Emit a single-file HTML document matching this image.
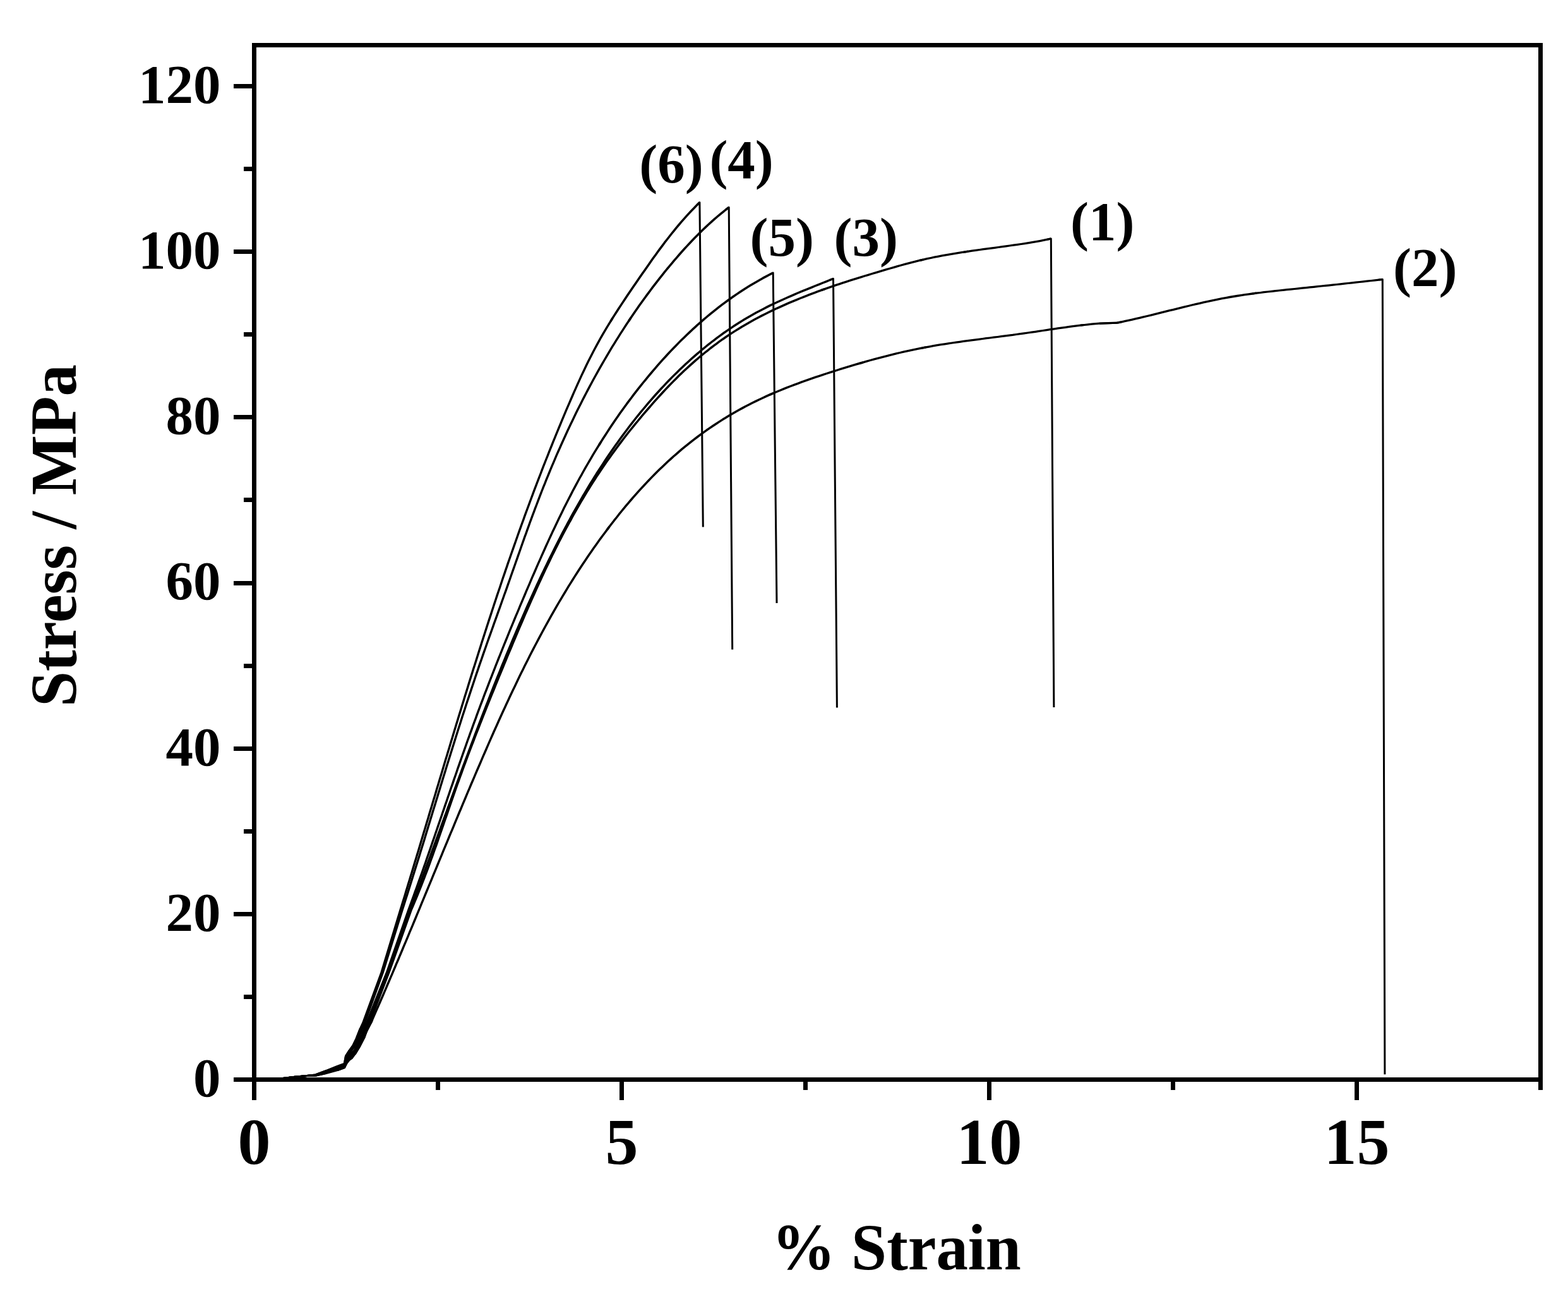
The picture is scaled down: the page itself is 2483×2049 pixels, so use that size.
<!DOCTYPE html>
<html lang="en"><head><meta charset="utf-8"><title>Stress / MPa vs % Strain</title>
<style>html,body{margin:0;padding:0;background:#fff}body{width:2483px;height:2049px;overflow:hidden}svg{display:block}text{font-family:'Liberation Serif', serif;font-weight:bold;fill:#000}</style></head><body>
<svg width="2483" height="2049" viewBox="0 0 2483 2049" role="img" aria-label="Stress-strain curves">
<rect width="2483" height="2049" fill="#fff"/>
<g fill="none" stroke="#000" stroke-linejoin="round" stroke-linecap="butt">
<polyline stroke-width="3.23" points="430.0,1709.5 448.0,1707.5 467.0,1705.4 486.0,1703.5 500.0,1703.0"/>
<polyline stroke-width="3.13" points="486.0,1703.5 500.0,1703.0 517.3,1699.1"/>
<polyline stroke-width="3.34" points="500.0,1703.0 517.3,1699.1 534.6,1694.5 545.5,1690.5"/>
<polyline stroke-width="3.42" points="534.6,1694.5 545.5,1690.5 548.6,1683.5 552.6,1678.6"/>
<polyline stroke-width="3.47" points="548.6,1683.5 552.6,1678.6 557.3,1675.3 561.9,1669.0 567.6,1659.2 573.4,1647.6 579.1,1635.6 587.2,1620.0 589.6,1614.5"/>
<polyline stroke-width="3.44" points="587.2,1620.0 589.6,1614.5 592.1,1608.9 594.5,1603.4 596.9,1597.8 599.4,1592.3 601.8,1586.8 604.2,1581.2 606.6,1575.7 609.0,1570.1 611.4,1564.6 613.7,1559.0 616.1,1553.5 618.5,1547.9 620.9,1542.4 623.2,1536.8 625.6,1531.3 627.9,1525.7 630.3,1520.2 632.6,1514.6 635.0,1509.0 637.3,1503.5 639.6,1497.9 642.0,1492.4 644.3,1486.8 646.6,1481.3 648.9,1475.7 651.3,1470.1 653.6,1464.6 655.9,1459.0 658.2,1453.5 660.5,1447.9 662.8,1442.3 665.1,1436.8 667.4,1431.2 669.7,1425.7 672.0,1420.1 674.3,1414.5 676.6,1409.0 678.9,1403.4 681.2,1397.8 683.5,1392.3 685.8,1386.7 688.1,1381.1 690.4,1375.6 692.7,1370.0 695.0,1364.4 697.3,1358.9 699.6,1353.3 701.9,1347.7 704.2,1342.2 706.5,1336.6 708.8,1331.1 711.1,1325.5 713.4,1319.9 715.8,1314.4 718.1,1308.8 720.4,1303.2 722.7,1297.7 725.0,1292.1 727.3,1286.5 729.7,1281.0 732.0,1275.4 734.3,1269.8 736.7,1264.3 739.0,1258.7 741.3,1253.2 743.7,1247.6 746.0,1242.0 748.4,1236.5 750.8,1230.9 753.1,1225.4 755.5,1219.8 757.9,1214.2 760.3,1208.7 762.7,1203.1 765.0,1197.6 767.5,1192.0 769.9,1186.5 772.3,1180.9 774.7,1175.4 777.1,1169.9 779.6,1164.3 782.0,1158.8 784.5,1153.3 787.0,1147.8 789.4,1142.2 791.9,1136.7 794.4,1131.2 796.9,1125.7 799.5,1120.2 802.0,1114.7 804.6,1109.3 807.1,1103.8 809.7,1098.3 812.3,1092.8 814.9,1087.4 817.5,1081.9 820.1,1076.5 822.7,1071.1 825.4,1065.6 828.1,1060.2 830.7,1054.8 833.4,1049.4 836.2,1044.0 838.9,1038.6 841.6,1033.3 844.4,1027.9 847.2,1022.5 850.0,1017.2 852.8,1011.9 855.6,1006.6 858.5,1001.2 861.4,995.9 864.2,990.7 867.2,985.4 870.1,980.1 873.0,974.9 876.0,969.6 879.0,964.4 882.0,959.2 885.0,954.0 888.1,948.8 891.2,943.6 894.3,938.5 897.4,933.3 900.5,928.2 903.7,923.1 906.9,918.0 910.1,912.9 913.4,907.8 916.6,902.8 919.9,897.7 923.2,892.7 926.6,887.7 929.9,882.7 933.3,877.7 936.8,872.8 940.2,867.8 943.7,862.9 947.2,858.0 950.7,853.1 954.3,848.3 957.9,843.4 961.5,838.6 965.1,833.8"/>
<polyline stroke-width="3.48" points="961.5,838.6 965.1,833.8 968.8,829.0 972.5,824.2 976.3,819.5 980.0,814.7 983.8,810.0 987.6,805.4 991.5,800.7 995.4,796.1 999.3,791.5 1003.3,786.9 1007.3,782.4 1011.3,777.9 1015.4,773.4 1019.5,769.0 1023.6,764.6 1027.7,760.2 1031.9,755.9 1036.2,751.6 1040.4,747.3 1044.7,743.1 1049.1,738.9 1053.5,734.7 1057.9,730.6 1062.3,726.6 1066.8,722.5 1071.4,718.6 1075.9,714.6 1080.5,710.7 1085.2,706.9 1089.9,703.1 1094.6,699.3 1099.4,695.6 1104.2,692.0 1109.0,688.4 1113.9,684.8 1118.8,681.3 1123.8,677.9 1128.8,674.5 1133.8,671.2 1138.9,667.9 1144.0,664.6 1149.1,661.5 1154.3,658.3 1159.5,655.3 1164.7,652.2 1170.0,649.3 1175.3,646.4 1180.6,643.5 1186.0,640.8 1191.3,638.0 1196.7,635.4 1202.2,632.8 1207.6,630.2 1213.1,627.7 1218.6,625.2 1224.1,622.8"/>
<polyline stroke-width="3.39" points="1218.6,625.2 1224.1,622.8 1229.6,620.5 1235.2,618.2 1240.8,615.9 1246.4,613.7 1252.0,611.5 1257.6,609.4 1263.3,607.3 1268.9,605.2 1274.6,603.2 1280.3,601.2 1286.0,599.2 1291.7,597.2 1297.4,595.3 1303.2,593.4 1308.9,591.5 1314.7,589.7 1320.4,587.8 1326.2,586.0 1331.9,584.2 1337.7,582.4 1343.5,580.6 1349.3,578.9 1355.0,577.2 1360.8,575.5 1366.6,573.8"/>
<polyline stroke-width="3.34" points="1360.8,575.5 1366.6,573.8 1372.4,572.1 1378.2,570.5 1384.1,568.9 1389.9,567.3 1395.7,565.8 1401.6,564.3 1407.4,562.8 1413.2,561.3 1419.1,559.9 1425.0,558.5 1430.8,557.2 1436.7,555.9 1442.6,554.6 1448.5,553.3 1454.4,552.1 1460.3,551.0 1466.2,549.9"/>
<polyline stroke-width="3.26" points="1460.3,551.0 1466.2,549.9 1472.2,548.8 1478.1,547.7 1484.0,546.7 1490.0,545.7 1495.9,544.8 1501.9,543.9 1507.8,543.0 1513.8,542.1 1519.8,541.3 1525.8,540.4 1531.7,539.6 1537.7,538.8 1543.7,538.1 1549.7,537.3 1555.7,536.5 1561.7,535.7 1567.6,535.0 1573.6,534.2 1579.6,533.5 1585.6,532.7 1591.6,531.9 1597.6,531.1 1603.6,530.4 1609.5,529.5 1615.5,528.7 1621.5,527.9 1627.5,527.0 1633.4,526.2 1639.4,525.3 1645.4,524.4 1651.3,523.5 1657.3,522.6 1663.2,521.7 1669.2,520.8 1675.2,519.9 1681.1,519.1 1687.1,518.3 1693.1,517.4 1699.0,516.7 1705.0,515.9 1711.0,515.2 1717.0,514.5"/>
<polyline stroke-width="3.22" points="1711.0,515.2 1717.0,514.5 1723.0,513.8 1729.0,513.2 1735.0,512.7 1741.0,512.2 1769.0,511.2"/>
<polyline stroke-width="3.13" points="1741.0,512.2 1769.0,511.2 1775.0,510.0"/>
<polyline stroke-width="3.32" points="1769.0,511.2 1775.0,510.0 1780.9,508.7 1786.9,507.4 1792.8,506.1 1798.8,504.7 1804.7,503.3 1810.6,501.9 1816.6,500.5 1822.5,499.1 1828.4,497.6 1834.3,496.2 1840.2,494.7 1846.2,493.2 1852.1,491.7 1858.0,490.3 1863.9,488.8 1869.8,487.3 1875.8,485.9 1881.7,484.5 1887.6,483.0 1893.6,481.7 1899.5,480.3 1905.4,478.9 1911.4,477.6 1917.3,476.3 1923.3,475.1 1929.3,473.9 1935.2,472.7 1941.2,471.6 1947.2,470.5 1953.2,469.5 1959.2,468.5 1965.2,467.6 1971.2,466.7 1977.3,465.9 1983.3,465.0 1989.4,464.2"/>
<polyline stroke-width="3.23" points="1983.3,465.0 1989.4,464.2 1995.4,463.5 2001.4,462.7 2007.5,462.0 2013.6,461.3 2019.6,460.7 2025.7,460.0 2031.7,459.4 2037.8,458.7 2043.9,458.1 2049.9,457.5 2056.0,456.8 2062.1,456.2 2068.1,455.6 2074.2,454.9 2080.3,454.3 2086.3,453.7 2092.4,453.0 2098.4,452.4 2104.5,451.8 2110.6,451.1 2116.6,450.5 2122.7,449.8 2128.7,449.2 2134.8,448.5 2140.9,447.9 2146.9,447.2 2153.0,446.5 2159.0,445.9 2165.1,445.2 2171.1,444.5 2177.2,443.8 2183.2,443.1 2189.3,442.4"/>
<polyline stroke-width="3" points="2183.2,443.1 2189.3,442.4 2192.9,1701.3"/>
<polyline stroke-width="3.23" points="430.0,1709.5 448.0,1707.5 467.0,1705.4 486.0,1703.5 500.0,1702.8"/>
<polyline stroke-width="3.16" points="486.0,1703.5 500.0,1702.8 517.3,1698.3"/>
<polyline stroke-width="3.37" points="500.0,1702.8 517.3,1698.3 534.6,1693.3 545.5,1689.3 550.2,1681.0"/>
<polyline stroke-width="3.47" points="545.5,1689.3 550.2,1681.0 556.3,1673.0 562.8,1668.0 569.8,1656.5 576.5,1643.5 584.4,1621.5"/>
<polyline stroke-width="3.42" points="576.5,1643.5 584.4,1621.5 615.8,1540.0 651.5,1440.0 653.9,1434.5 656.3,1428.9 658.6,1423.4 660.9,1417.8 663.2,1412.2 665.4,1406.6 667.6,1401.0 669.8,1395.4 672.0,1389.8 674.1,1384.1 676.3,1378.5 678.4,1372.8 680.5,1367.2 682.5,1361.5 684.6,1355.8 686.6,1350.1 688.6,1344.4 690.7,1338.8 692.7,1333.1 694.6,1327.4 696.6,1321.6 698.6,1315.9 700.6,1310.2 702.6,1304.5 704.5,1298.8 706.5,1293.1 708.5,1287.4 710.4,1281.7 712.4,1276.0 714.4,1270.3 716.3,1264.6 718.3,1258.9 720.3,1253.2 722.3,1247.5 724.3,1241.8 726.4,1236.1 728.4,1230.4 730.5,1224.8 732.5,1219.1 734.6,1213.4 736.7,1207.8 738.8,1202.1 740.9,1196.5 743.0,1190.9 745.2,1185.2 747.3,1179.6 749.5,1174.0 751.6,1168.3 753.8,1162.7 756.0,1157.1 758.2,1151.5 760.4,1145.9 762.6,1140.3 764.8,1134.7 767.0,1129.1 769.2,1123.5 771.5,1117.9 773.7,1112.3 776.0,1106.7 778.2,1101.1 780.5,1095.5 782.8,1090.0 785.0,1084.4 787.3,1078.8 789.6,1073.2 791.9,1067.6 794.2,1062.1 796.5,1056.5 798.8,1050.9 801.1,1045.3 803.4,1039.7 805.7,1034.2 808.1,1028.6 810.4,1023.0 812.7,1017.4 815.1,1011.9 817.4,1006.3 819.8,1000.7 822.1,995.2 824.5,989.6 826.9,984.0 829.2,978.5 831.6,972.9 834.1,967.4 836.5,961.9 838.9,956.3 841.3,950.8 843.8,945.3 846.3,939.7 848.7,934.2 851.2,928.7 853.7,923.2 856.3,917.8 858.8,912.3 861.4,906.8 863.9,901.3 866.5,895.9 869.2,890.4 871.8,885.0 874.4,879.6 877.1,874.2 879.8,868.8 882.5,863.4 885.2,858.0 888.0,852.7 890.8,847.3 893.6,842.0 896.4,836.7 899.3,831.4 902.1,826.1 905.0,820.8"/>
<polyline stroke-width="3.47" points="902.1,826.1 905.0,820.8 908.0,815.5 910.9,810.3 913.9,805.1 916.9,799.8 919.9,794.6 923.0,789.5 926.1,784.3 929.2,779.2 932.4,774.0 935.6,768.9 938.8,763.8 942.1,758.8 945.3,753.7 948.7,748.7 952.0,743.7 955.4,738.7 958.8,733.7 962.3,728.8 965.8,723.9 969.3,719.0 972.9,714.1 976.5,709.2 980.1,704.4 983.7,699.6 987.4,694.8 991.1,690.0 994.8,685.3 998.6,680.5 1002.4,675.8 1006.2,671.1 1010.1,666.5 1013.9,661.8 1017.8,657.2 1021.7,652.6 1025.7,648.0 1029.7,643.5 1033.6,638.9 1037.6,634.4 1041.7,629.9 1045.7,625.5 1049.8,621.0 1053.9,616.6 1058.1,612.3 1062.3,607.9 1066.5,603.6 1070.7,599.4 1075.0,595.1 1079.3,590.9 1083.7,586.8 1088.1,582.7 1092.6,578.6 1097.1,574.6 1101.6,570.6 1106.2,566.7 1110.8,562.8 1115.5,559.0 1120.2,555.3 1124.9,551.5 1129.7,547.9 1134.5,544.3 1139.4,540.7 1144.3,537.2 1149.3,533.8 1154.3,530.4 1159.3,527.1 1164.4,523.9 1169.5,520.7 1174.7,517.5 1179.9,514.5 1185.1,511.4 1190.3,508.5 1195.6,505.6 1200.9,502.7 1206.3,499.9 1211.7,497.2 1217.1,494.5 1222.5,491.9 1227.9,489.3 1233.4,486.8 1238.9,484.3 1244.4,481.8 1250.0,479.4 1255.5,477.1 1261.1,474.8 1266.7,472.5 1272.3,470.3 1277.9,468.1 1283.5,465.9 1289.1,463.8 1294.8,461.7 1300.4,459.7 1306.1,457.6"/>
<polyline stroke-width="3.37" points="1300.4,459.7 1306.1,457.6 1311.8,455.6 1317.5,453.7 1323.2,451.7 1328.9,449.8 1334.6,447.9 1340.3,446.1 1346.1,444.2 1351.8,442.4 1357.6,440.6 1363.3,438.8 1369.1,437.0 1374.9,435.3 1380.7,433.5 1386.4,431.8 1392.2,430.1 1398.0,428.4 1403.8,426.6 1409.6,425.0 1415.4,423.3 1421.2,421.6 1427.0,420.0 1432.9,418.4 1438.7,416.9 1444.5,415.3 1450.4,413.9 1456.2,412.4 1462.1,411.1"/>
<polyline stroke-width="3.30" points="1456.2,412.4 1462.1,411.1 1468.0,409.7 1473.9,408.5 1479.8,407.2 1485.7,406.1 1491.6,404.9 1497.5,403.8 1503.5,402.8 1509.4,401.8 1515.3,400.8 1521.3,399.9 1527.3,399.0 1533.2,398.1"/>
<polyline stroke-width="3.27" points="1527.3,399.0 1533.2,398.1 1539.2,397.2 1545.1,396.3 1551.1,395.5 1557.1,394.7 1563.1,393.9 1569.0,393.1 1575.0,392.3 1581.0,391.5 1587.0,390.7 1593.0,389.9 1598.9,389.0 1604.9,388.2 1610.9,387.4 1616.8,386.5 1622.8,385.6 1628.8,384.7 1634.7,383.7 1640.7,382.7 1646.6,381.6 1652.5,380.4 1658.4,379.2 1664.3,377.9"/>
<polyline stroke-width="3" points="1658.4,379.2 1664.3,377.9 1668.9,1120.0"/>
<polyline stroke-width="3.22" points="430.0,1709.5 448.0,1707.5 467.0,1705.4 486.0,1703.5 500.0,1702.5 517.3,1697.6"/>
<polyline stroke-width="3.38" points="500.0,1702.5 517.3,1697.6 534.6,1692.0 545.5,1688.0 549.7,1679.5"/>
<polyline stroke-width="3.44" points="545.5,1688.0 549.7,1679.5 555.8,1671.0 562.2,1665.5 568.3,1654.0 575.0,1641.0 582.5,1621.0 614.5,1540.0 650.0,1440.0 652.1,1434.3 654.3,1428.7 656.4,1423.0 658.5,1417.3 660.7,1411.6 662.8,1405.9 664.9,1400.3 667.0,1394.6 669.1,1388.9 671.2,1383.2 673.3,1377.5 675.4,1371.8 677.5,1366.2 679.6,1360.5 681.7,1354.8 683.8,1349.1 685.9,1343.4 687.9,1337.7 690.0,1332.0 692.1,1326.3 694.2,1320.7 696.3,1315.0 698.3,1309.3 700.4,1303.6 702.5,1297.9 704.6,1292.2 706.7,1286.5 708.7,1280.8 710.8,1275.1 712.9,1269.5 715.0,1263.8 717.1,1258.1 719.2,1252.4 721.2,1246.7 723.3,1241.0 725.4,1235.4 727.5,1229.7 729.6,1224.0 731.7,1218.3 733.8,1212.6 735.9,1207.0 738.0,1201.3 740.2,1195.6 742.3,1189.9 744.4,1184.3 746.5,1178.6 748.7,1172.9 750.8,1167.3 752.9,1161.6 755.1,1156.0 757.2,1150.3 759.4,1144.6 761.5,1139.0 763.7,1133.3 765.9,1127.7 768.1,1122.1 770.3,1116.4 772.5,1110.8 774.7,1105.1 776.9,1099.5 779.1,1093.9 781.3,1088.2 783.5,1082.6 785.8,1077.0 788.0,1071.4 790.3,1065.8 792.6,1060.1 794.8,1054.5 797.1,1048.9 799.4,1043.3 801.7,1037.7 804.0,1032.1 806.4,1026.5 808.7,1021.0 811.0,1015.4 813.4,1009.8 815.8,1004.2 818.1,998.6 820.5,993.1 822.9,987.5 825.4,982.0 827.8,976.4 830.2,970.9 832.7,965.3 835.1,959.8 837.6,954.2 840.1,948.7 842.6,943.2 845.1,937.7 847.6,932.1 850.2,926.6 852.7,921.1 855.3,915.6 857.9,910.1 860.5,904.7 863.1,899.2 865.8,893.7 868.4,888.3 871.1,882.8 873.8,877.4 876.5,871.9 879.2,866.5 882.0,861.1 884.7,855.7 887.5,850.3 890.3,844.9 893.1,839.5 896.0,834.2 898.8,828.8 901.7,823.5 904.6,818.2 907.5,812.9 910.5,807.6 913.5,802.3 916.5,797.0 919.5,791.8 922.5,786.5 925.6,781.3 928.7,776.1 931.8,770.9 934.9,765.7 938.1,760.6 941.3,755.5 944.5,750.3 947.8,745.2 951.1,740.1 954.4,735.1 957.7,730.0 961.0,725.0 964.4,720.0 967.8,715.0 971.3,710.0 974.8,705.1 978.3,700.2 981.8,695.2 985.4,690.4 989.0,685.5 992.6,680.7 996.3,675.8 999.9,671.1 1003.7,666.3 1007.4,661.5 1011.2,656.8 1015.0,652.1 1018.9,647.5 1022.8,642.8 1026.7,638.2 1030.7,633.6 1034.7,629.0 1038.7,624.5 1042.8,620.0 1046.9,615.5 1051.1,611.1 1055.2,606.7 1059.4,602.3 1063.7,597.9 1068.0,593.6 1072.3,589.4 1076.7,585.1 1081.1,581.0 1085.5,576.8 1090.0,572.7 1094.5,568.6 1099.0,564.6 1103.6,560.6 1108.2,556.7 1112.8,552.8 1117.5,549.0 1122.3,545.2 1127.0,541.5 1131.8,537.8 1136.6,534.1 1141.5,530.6 1146.4,527.0 1151.4,523.6 1156.4,520.2 1161.4,516.8 1166.5,513.5 1171.6,510.3 1176.7,507.1 1181.9,504.0 1187.1,500.9 1192.3,498.0 1197.6,495.0 1203.0,492.2 1208.3,489.4 1213.7,486.6 1219.1,483.9 1224.6,481.3 1230.1,478.7 1235.6,476.2 1241.1,473.7 1246.6,471.2 1252.2,468.8 1257.8,466.4 1263.3,464.0 1268.9,461.7 1274.6,459.3 1280.2,457.1 1285.8,454.8 1291.4,452.5 1297.0,450.3 1302.7,448.0 1308.3,445.8 1313.9,443.5 1319.5,441.3"/>
<polyline stroke-width="3" points="1313.9,443.5 1319.5,441.3 1325.4,1120.5"/>
<polyline stroke-width="3.22" points="430.0,1709.5 448.0,1707.5 467.0,1705.4 486.0,1703.5 500.0,1702.3 517.3,1696.8"/>
<polyline stroke-width="3.40" points="500.0,1702.3 517.3,1696.8 534.6,1690.8 545.5,1686.8 549.2,1678.0 555.3,1669.0"/>
<polyline stroke-width="3.47" points="549.2,1678.0 555.3,1669.0 561.4,1663.0 567.0,1651.0 573.5,1637.5 580.2,1620.5"/>
<polyline stroke-width="3.42" points="573.5,1637.5 580.2,1620.5 612.5,1540.0 647.2,1440.0 649.3,1434.3 651.4,1428.7 653.4,1423.0 655.5,1417.3 657.5,1411.7 659.6,1406.0 661.6,1400.3 663.6,1394.6 665.7,1388.9 667.7,1383.2 669.7,1377.5 671.7,1371.9 673.7,1366.2 675.6,1360.5 677.6,1354.8 679.6,1349.1 681.6,1343.4 683.5,1337.7 685.5,1331.9 687.5,1326.2 689.4,1320.5 691.4,1314.8 693.3,1309.1 695.3,1303.4 697.2,1297.7 699.2,1292.0 701.1,1286.3 703.1,1280.6 705.0,1274.9 707.0,1269.2 708.9,1263.5 710.9,1257.7 712.8,1252.0 714.8,1246.3 716.8,1240.6 718.7,1234.9 720.7,1229.2 722.7,1223.5 724.6,1217.8 726.6,1212.1 728.6,1206.4 730.6,1200.7 732.6,1195.0 734.6,1189.4 736.6,1183.7 738.6,1178.0 740.6,1172.3 742.7,1166.6 744.7,1160.9 746.8,1155.3 748.8,1149.6 750.9,1143.9 753.0,1138.3 755.0,1132.6 757.1,1126.9 759.2,1121.3 761.3,1115.6 763.5,1110.0 765.6,1104.4 767.7,1098.7 769.9,1093.1 772.1,1087.4 774.2,1081.8 776.4,1076.2 778.6,1070.6 780.8,1064.9 783.0,1059.3 785.2,1053.7 787.4,1048.1 789.6,1042.5 791.9,1036.9 794.1,1031.3 796.4,1025.7 798.6,1020.1 800.9,1014.5 803.2,1008.9 805.4,1003.3 807.7,997.7 810.0,992.1 812.3,986.6 814.6,981.0 816.9,975.4 819.3,969.8 821.6,964.3 823.9,958.7 826.3,953.1 828.6,947.6 831.0,942.0 833.3,936.4 835.7,930.9 838.1,925.3 840.4,919.8 842.8,914.2 845.2,908.7 847.6,903.2 850.0,897.6 852.4,892.1 854.9,886.6 857.3,881.1 859.8,875.5 862.3,870.0 864.7,864.5 867.2,859.1 869.7,853.6 872.3,848.1 874.8,842.6 877.4,837.2 880.0,831.7 882.6,826.3 885.2,820.8 887.8,815.4 890.5,810.0 893.1,804.6 895.8,799.2 898.6,793.8 901.3,788.5 904.1,783.1 906.8,777.8 909.7,772.4 912.5,767.1 915.4,761.8 918.2,756.5 921.2,751.3 924.1,746.0 927.1,740.7 930.1,735.5 933.1,730.3 936.2,725.1 939.2,719.9 942.4,714.7 945.5,709.6 948.7,704.5 951.9,699.3"/>
<polyline stroke-width="3.49" points="948.7,704.5 951.9,699.3 955.1,694.2 958.4,689.2 961.7,684.1 965.0,679.0 968.3,674.0 971.7,669.0 975.1,664.0 978.6,659.1 982.0,654.1 985.5,649.2 989.1,644.3 992.6,639.4 996.2,634.6 999.9,629.8 1003.5,624.9 1007.2,620.2 1010.9,615.4 1014.7,610.7 1018.4,606.0 1022.3,601.3 1026.1,596.6 1030.0,592.0 1033.9,587.4 1037.8,582.8 1041.8,578.2 1045.8,573.7 1049.8,569.2 1053.9,564.7 1058.0,560.3 1062.1,555.9 1066.3,551.5 1070.5,547.2 1074.7,542.9 1079.0,538.6 1083.3,534.4 1087.6,530.2 1092.0,526.1 1096.4,521.9 1100.9,517.9 1105.3,513.8 1109.9,509.9 1114.4,505.9 1119.0,502.0 1123.6,498.2 1128.3,494.3 1133.0,490.6 1137.7,486.9 1142.5,483.2 1147.3,479.6 1152.2,476.0 1157.1,472.5 1162.0,469.0 1167.0,465.6 1172.0,462.3 1177.0,459.0 1182.1,455.7 1187.2,452.6 1192.4,449.4 1197.6,446.4 1202.8,443.4 1208.1,440.4 1213.4,437.6 1218.8,434.7 1224.2,432.0"/>
<polyline stroke-width="3" points="1218.8,434.7 1224.2,432.0 1230.0,955.1"/>
<polyline stroke-width="3.23" points="430.0,1709.5 448.0,1707.5 467.0,1705.4 486.0,1703.5 500.0,1702.0 517.3,1696.1"/>
<polyline stroke-width="3.39" points="500.0,1702.0 517.3,1696.1 534.6,1689.5 545.5,1685.5 548.4,1675.0 554.6,1666.0"/>
<polyline stroke-width="3.47" points="548.4,1675.0 554.6,1666.0 560.2,1658.5 566.3,1646.0 572.3,1631.5"/>
<polyline stroke-width="3.41" points="566.3,1646.0 572.3,1631.5 576.8,1621.5 606.2,1540.0 637.3,1440.0 639.2,1434.3 641.0,1428.5 642.8,1422.8 644.7,1417.0 646.5,1411.3 648.3,1405.5 650.1,1399.8 651.9,1394.0 653.7,1388.3 655.5,1382.5 657.3,1376.8 659.1,1371.0 660.9,1365.2 662.7,1359.5 664.5,1353.7 666.2,1348.0 668.0,1342.2 669.8,1336.4 671.6,1330.7 673.3,1324.9 675.1,1319.1 676.8,1313.4 678.6,1307.6 680.4,1301.8 682.1,1296.1 683.9,1290.3 685.6,1284.5 687.4,1278.8 689.2,1273.0 690.9,1267.2 692.7,1261.4 694.4,1255.7 696.2,1249.9 698.0,1244.1 699.7,1238.4 701.5,1232.6 703.3,1226.8 705.1,1221.1 706.8,1215.3 708.6,1209.6 710.4,1203.8 712.2,1198.0 714.0,1192.3 715.8,1186.5 717.6,1180.8 719.4,1175.0 721.2,1169.3 723.0,1163.5 724.8,1157.8 726.6,1152.0 728.5,1146.3 730.3,1140.5 732.1,1134.8 734.0,1129.0 735.9,1123.3 737.7,1117.6 739.6,1111.8 741.5,1106.1 743.4,1100.4 745.3,1094.6 747.2,1088.9 749.1,1083.2 751.0,1077.5 752.9,1071.8 754.8,1066.1 756.8,1060.4 758.7,1054.6 760.7,1048.9 762.7,1043.2 764.6,1037.6 766.6,1031.9 768.6,1026.2 770.6,1020.5 772.6,1014.8 774.6,1009.1 776.7,1003.4 778.7,997.8 780.7,992.1 782.7,986.4 784.8,980.7 786.8,975.1 788.8,969.4 790.9,963.7 792.9,958.0 794.9,952.3 796.9,946.7 798.9,941.0 801.0,935.3 803.0,929.6 805.0,923.9 807.0,918.2 809.0,912.5 811.0,906.8 813.0,901.1 815.0,895.5 817.0,889.8 819.0,884.1 821.0,878.4 823.0,872.7 825.0,867.0 827.0,861.3 829.0,855.6 831.0,849.9 833.1,844.3 835.1,838.6 837.2,832.9 839.2,827.2 841.3,821.6 843.4,815.9 845.5,810.3 847.6,804.6 849.8,799.0 851.9,793.3 854.1,787.7 856.2,782.1 858.4,776.5 860.6,770.9 862.9,765.3 865.1,759.7 867.4,754.1 869.7,748.5 872.0,742.9 874.3,737.4 876.7,731.8 879.0,726.3 881.4,720.7 883.8,715.2 886.3,709.7 888.7,704.2 891.2,698.7 893.7,693.2 896.2,687.7 898.7,682.2 901.3,676.8 903.9,671.3 906.5,665.9 909.1,660.5 911.7,655.1 914.4,649.6 917.1,644.3 919.8,638.9 922.5,633.5 925.3,628.1 928.1,622.8 930.9,617.4 933.7,612.1 936.6,606.8 939.4,601.5 942.3,596.2 945.3,590.9 948.2,585.7 951.2,580.4 954.2,575.2 957.2,570.0 960.2,564.8 963.3,559.6 966.4,554.4 969.5,549.2 972.7,544.1 975.9,538.9 979.1,533.8 982.3,528.7 985.6,523.6 988.8,518.6 992.1,513.5 995.5,508.5 998.8,503.5"/>
<polyline stroke-width="3.49" points="995.5,508.5 998.8,503.5 1002.2,498.5 1005.6,493.5 1009.1,488.6 1012.5,483.6 1016.0,478.7 1019.6,473.8 1023.1,468.9 1026.7,464.1 1030.3,459.2 1033.9,454.4 1037.6,449.6 1041.3,444.9 1045.0,440.1 1048.8,435.4 1052.5,430.7 1056.3,426.0 1060.2,421.4 1064.0,416.8 1067.9,412.2 1071.9,407.6 1075.8,403.0 1079.8,398.5 1083.8,394.0 1087.9,389.6 1092.0,385.2 1096.2,380.8 1100.3,376.5 1104.6,372.2 1108.8,367.9 1113.1,363.7 1117.5,359.6 1121.9,355.5 1126.4,351.4 1130.9,347.4 1135.4,343.5 1140.0,339.6 1144.7,335.8 1149.4,332.0 1154.2,328.3"/>
<polyline stroke-width="3" points="1149.4,332.0 1154.2,328.3 1159.7,1028.5"/>
<polyline stroke-width="3.23" points="430.0,1709.5 448.0,1707.5 467.0,1705.4 486.0,1703.5 500.0,1701.8 517.3,1695.3"/>
<polyline stroke-width="3.41" points="500.0,1701.8 517.3,1695.3 534.6,1688.3 545.5,1684.3 547.6,1672.5"/>
<polyline stroke-width="3.29" points="545.5,1684.3 547.6,1672.5 553.7,1663.0"/>
<polyline stroke-width="3.47" points="547.6,1672.5 553.7,1663.0 559.0,1655.5 564.8,1643.5 570.5,1629.0"/>
<polyline stroke-width="3.40" points="564.8,1643.5 570.5,1629.0 574.7,1620.0 604.0,1540.0 634.3,1440.0 636.1,1434.2 637.8,1428.4 639.6,1422.7 641.4,1416.9 643.1,1411.1 644.9,1405.3 646.6,1399.5 648.4,1393.8 650.1,1388.0 651.9,1382.2 653.6,1376.4 655.4,1370.6 657.1,1364.8 658.9,1359.1 660.6,1353.3 662.4,1347.5 664.1,1341.7 665.8,1335.9 667.6,1330.1 669.3,1324.3 671.0,1318.6 672.8,1312.8 674.5,1307.0 676.2,1301.2 678.0,1295.4 679.7,1289.6 681.4,1283.8 683.2,1278.1 684.9,1272.3 686.6,1266.5 688.4,1260.7 690.1,1254.9 691.8,1249.1 693.6,1243.3 695.3,1237.5 697.0,1231.8 698.8,1226.0 700.5,1220.2 702.2,1214.4 704.0,1208.6 705.7,1202.8 707.5,1197.1 709.2,1191.3 711.0,1185.5 712.7,1179.7 714.4,1173.9 716.2,1168.2 717.9,1162.4 719.7,1156.6 721.5,1150.8 723.2,1145.0 725.0,1139.3 726.7,1133.5 728.5,1127.7 730.3,1121.9 732.0,1116.2 733.8,1110.4 735.6,1104.6 737.4,1098.8 739.2,1093.1 741.0,1087.3 742.7,1081.5 744.5,1075.8 746.3,1070.0 748.1,1064.2 749.9,1058.5 751.8,1052.7 753.6,1046.9 755.4,1041.2 757.2,1035.4 759.0,1029.7 760.9,1023.9 762.7,1018.1 764.5,1012.4 766.4,1006.6 768.2,1000.9 770.1,995.1 771.9,989.4 773.8,983.6 775.7,977.9 777.6,972.1 779.4,966.4 781.3,960.7 783.2,954.9 785.1,949.2 787.0,943.4 788.9,937.7 790.9,932.0 792.8,926.3 794.7,920.5 796.6,914.8 798.6,909.1 800.5,903.4 802.5,897.6 804.4,891.9 806.4,886.2 808.4,880.5 810.4,874.8 812.4,869.1 814.4,863.4 816.4,857.7 818.4,852.0 820.4,846.3 822.4,840.6 824.5,834.9 826.5,829.2 828.6,823.6 830.6,817.9 832.7,812.2 834.8,806.5 836.9,800.9 839.0,795.2 841.1,789.5 843.2,783.9 845.3,778.2 847.4,772.6 849.6,766.9 851.7,761.3 853.9,755.6 856.1,750.0 858.2,744.3 860.4,738.7 862.6,733.1 864.8,727.5 867.1,721.8 869.3,716.2 871.5,710.6 873.8,705.0 876.0,699.4 878.3,693.8 880.6,688.2 882.9,682.6 885.2,677.0 887.5,671.5 889.8,665.9 892.1,660.3 894.5,654.7 896.8,649.2 899.2,643.6 901.6,638.1 904.0,632.5 906.4,627.0 908.8,621.4 911.3,615.9 913.7,610.4 916.2,604.9 918.7,599.4 921.2,593.9 923.8,588.4 926.4,583.0 929.0,577.6 931.7,572.1 934.4,566.7 937.1,561.4 939.9,556.0 942.7,550.7 945.6,545.4 948.5,540.1 951.4,534.8 954.4,529.6 957.5,524.4 960.6,519.2 963.7,514.0 966.9,508.9 970.1,503.7"/>
<polyline stroke-width="3.49" points="966.9,508.9 970.1,503.7 973.3,498.6 976.6,493.5 979.8,488.5 983.2,483.4 986.5,478.4 989.9,473.3 993.2,468.3 996.6,463.3 1000.0,458.3 1003.4,453.3 1006.9,448.3 1010.3,443.3 1013.7,438.3 1017.2,433.3 1020.6,428.4 1024.1,423.4 1027.6,418.4 1031.0,413.5 1034.5,408.6 1038.1,403.7 1041.6,398.8 1045.2,393.9 1048.8,389.1 1052.4,384.2 1056.1,379.5 1059.8,374.7 1063.5,370.0 1067.3,365.3 1071.1,360.6 1075.0,356.0 1078.9,351.4 1082.9,346.9 1086.9,342.4 1091.0,337.9 1095.1,333.5 1099.3,329.2 1103.6,324.8 1107.9,320.6"/>
<polyline stroke-width="3" points="1103.6,324.8 1107.9,320.6 1113.3,834.4"/>
</g>
<g fill="#000" shape-rendering="crispEdges">
<rect x="399.0" y="68.0" width="2044.0" height="7"/>
<rect x="399.0" y="1706.0" width="2044.0" height="7"/>
<rect x="399.0" y="68.0" width="7" height="1645.0"/>
<rect x="2436.0" y="68.0" width="7" height="1645.0"/>
<rect x="370.0" y="1706" width="29" height="7"/>
<rect x="386.0" y="1575" width="13" height="7"/>
<rect x="370.0" y="1444" width="29" height="7"/>
<rect x="386.0" y="1313" width="13" height="7"/>
<rect x="370.0" y="1182" width="29" height="7"/>
<rect x="386.0" y="1051" width="13" height="7"/>
<rect x="370.0" y="920" width="29" height="7"/>
<rect x="386.0" y="788" width="13" height="7"/>
<rect x="370.0" y="657" width="29" height="7"/>
<rect x="386.0" y="526" width="13" height="7"/>
<rect x="370.0" y="395" width="29" height="7"/>
<rect x="386.0" y="264" width="13" height="7"/>
<rect x="370.0" y="133" width="29" height="7"/>
<rect x="399" y="1713.0" width="7" height="29"/>
<rect x="690" y="1713.0" width="7" height="13"/>
<rect x="981" y="1713.0" width="7" height="29"/>
<rect x="1272" y="1713.0" width="7" height="13"/>
<rect x="1563" y="1713.0" width="7" height="29"/>
<rect x="1854" y="1713.0" width="7" height="13"/>
<rect x="2145" y="1713.0" width="7" height="29"/>
<rect x="2436" y="1713.0" width="7" height="13"/>
</g>
<g font-size="87" text-anchor="end">
<text x="349.5" y="1735.8">0</text>
<text x="349.5" y="1473.6">20</text>
<text x="349.5" y="1211.5">40</text>
<text x="349.5" y="949.3">60</text>
<text x="349.5" y="687.2">80</text>
<text x="349.5" y="425.0">100</text>
<text x="349.5" y="162.8">120</text>
</g>
<g font-size="104" text-anchor="middle">
<text x="402.5" y="1842.5">0</text>
<text x="984.5" y="1842.5">5</text>
<text x="1566.5" y="1842.5">10</text>
<text x="2148.5" y="1842.5">15</text>
</g>
<text x="1419.5" y="2009.5" font-size="104" text-anchor="middle" textLength="394.6" lengthAdjust="spacingAndGlyphs">% Strain</text>
<text transform="translate(120 848) rotate(-90)" font-size="104" text-anchor="middle" textLength="542.2" lengthAdjust="spacingAndGlyphs">Stress / MPa</text>
<g font-size="87">
<text x="1012.3" y="289.0">(6)</text>
<text x="1123.4" y="281.6">(4)</text>
<text x="1187.5" y="405.0">(5)</text>
<text x="1320.5" y="405.0">(3)</text>
<text x="1695.1" y="380.2">(1)</text>
<text x="2206.1" y="452.5">(2)</text>
</g>
</svg></body></html>
